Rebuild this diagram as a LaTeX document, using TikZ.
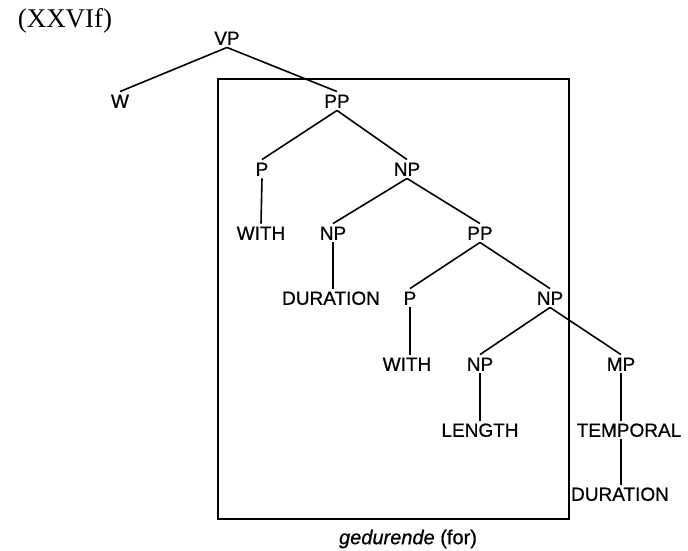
\documentclass[tikz,border=0pt]{standalone}
\usepackage{fontspec}
\setmainfont{Liberation Serif}
\setsansfont{Liberation Sans}[FakeBold=0.7]
\begin{document}
\begin{tikzpicture}[x=1pt,y=-1pt,
  lab/.style={font=\sffamily\fontsize{19}{21}\selectfont, inner sep=2.5pt, text height=13.5pt, text depth=0pt, anchor=center},
  edge/.style={line width=1.6pt},
  boxline/.style={line width=1.3pt}]
\useasboundingbox (0,0) rectangle (688,550);
\node[font=\fontsize{27}{29}\selectfont, inner sep=0pt] (title) at (65,21) {(XXVIf)};
\node[lab] (VP) at (227,38) {VP};
\node[lab] (W) at (120,101) {W};
\node[lab] (PP1) at (337,101) {PP};
\node[lab] (P1) at (262,169) {P};
\node[lab] (NP1) at (407,169) {NP};
\node[lab] (WITH1) at (261,233) {WITH};
\node[lab] (NP2) at (333,233) {NP};
\node[lab] (PP2) at (480,233) {PP};
\node[lab] (DUR1) at (331,298) {DURATION};
\node[lab] (P2) at (410,298) {P};
\node[lab] (NP3) at (550,298) {NP};
\node[lab] (WITH2) at (407,364) {WITH};
\node[lab] (NP4) at (480,364) {NP};
\node[lab] (MP) at (621,364) {MP};
\node[lab] (LENGTH) at (480,430) {LENGTH};
\node[lab] (TEMP) at (629,430) {TEMPORAL};
\node[lab] (DUR2) at (620,494) {DURATION};
\node[font=\sffamily\fontsize{20}{22}\selectfont, inner sep=0pt] (cap) at (408,539) {\textit{gedurende} (for)};
\draw[boxline] (218,79) rectangle (569,519);
\draw[edge] (VP.south) -- (W.north);
\draw[edge] (VP.south) -- (PP1.north);
\draw[edge] (PP1.south) -- (P1.north);
\draw[edge] (PP1.south) -- (NP1.north);
\draw[edge] (P1.south) -- (WITH1.north);
\draw[edge] (NP1.south) -- (NP2.north);
\draw[edge] (NP1.south) -- (PP2.north);
\draw[edge] (NP2.south) -- (NP2.south |- DUR1.north);
\draw[edge] (PP2.south) -- (P2.north);
\draw[edge] (PP2.south) -- (NP3.north);
\draw[edge] (P2.south) -- (P2.south |- WITH2.north);
\draw[edge] (NP3.south) -- (NP4.north);
\draw[edge] (NP3.south) -- (MP.north);
\draw[edge] (NP4.south) -- (LENGTH.north);
\draw[edge] (MP.south) -- (MP.south |- TEMP.north);
\draw[edge] (TEMP.south -| MP.south) -- (DUR2.north -| MP.south);
\end{tikzpicture}
\end{document}
